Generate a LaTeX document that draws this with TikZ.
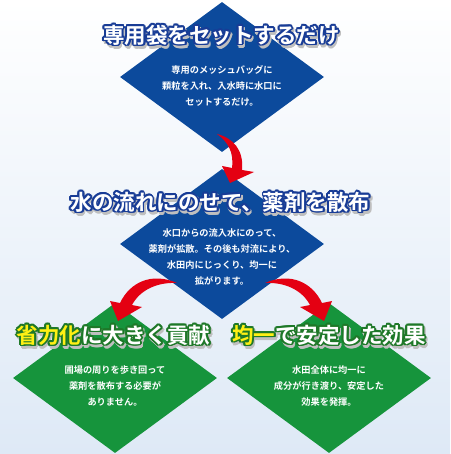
\documentclass[tikz,border=0pt]{standalone}
\usepackage{fontspec}
\newfontfamily\jp{Noto Sans CJK JP}[BoldFont={Noto Sans CJK JP Bold}]
\usetikzlibrary{shapes.geometric,positioning}
\definecolor{diamblue}{RGB}{12,74,156}
\definecolor{diamgreen}{RGB}{22,148,60}
\definecolor{arrowred}{RGB}{228,0,18}
\definecolor{titleyellow}{RGB}{255,240,20}
\definecolor{haloblue}{RGB}{24,60,150}
\definecolor{halogreen}{RGB}{30,120,40}
\definecolor{skypale}{RGB}{246,249,253}
\definecolor{skylow}{RGB}{222,233,246}
\colorlet{hilite}{titleyellow}
\newcommand\hl[1]{\textcolor{hilite}{#1}}
% title with a halo: name, position, halo colour, text
\newcommand\halotitle[4]{%
  \foreach \ang in {0,30,...,330}
    \node[titletext, text=black!25, execute at begin node={\colorlet{hilite}{black!25}}]
      at ([shift={(\ang:1.8pt)}, xshift=1.5pt, yshift=-2.5pt]#2) {#4};
  \foreach \ang in {0,30,...,330}
    \node[titletext, text=#3, execute at begin node={\colorlet{hilite}{#3}}]
      at ([shift={(\ang:1.8pt)}]#2) {#4};
  \node[titletext] (#1) at (#2) {#4};
}
\begin{document}
\begin{tikzpicture}[
  x=1pt, y=-1pt,
  font=\jp,
  diam/.style={diamond, minimum width=204pt, minimum height=150pt, inner sep=0pt},
  bluediam/.style={diam, fill=diamblue},
  greendiam/.style={diam, fill=diamgreen},
  body/.style={text=white, align=center, font=\jp\bfseries\fontsize{9.2}{16}\selectfont},
  titletext/.style={text=white, inner sep=0pt, font=\jp\bfseries\fontsize{21.5}{24}\selectfont},
  redarrow/.style={fill=arrowred}
]
\useasboundingbox (0,0) rectangle (450,454);
\shade[top color=white, middle color=skypale, bottom color=skylow] (0,0) rectangle (450,454);

% diamonds
\node[bluediam]  (d1) at (222,77)  {};
\node[bluediam]  (d2) at (222,244) {};
\node[greendiam] (d3) at (115,378) {};
\node[greendiam] (d4) at (329,378) {};

% curved red arrows
\fill[redarrow] (217,134) .. controls (233,138) and (244,150) .. (242,170)
  -- (254,172) -- (230,183) -- (222,166) -- (232,168)
  .. controls (234,152) and (228,142) .. (217,134) -- cycle;
\fill[redarrow] (265,283) .. controls (290,272) and (312,282) .. (322,303)
  -- (332,301) -- (324,321) -- (300,307) -- (310,305)
  .. controls (302,290) and (285,282) .. (265,283) -- cycle;
\fill[redarrow] (177,283) .. controls (152,272) and (130,282) .. (120,303)
  -- (110,301) -- (118,321) -- (142,307) -- (132,305)
  .. controls (140,290) and (157,282) .. (177,283) -- cycle;

% titles
\coordinate (p1) at (221.5,35);
\coordinate (p2) at (220.5,202);
\coordinate (p3) at (113.5,335);
\coordinate (p4) at (329,335);
\halotitle{t1}{p1}{haloblue}{専用袋をセットするだけ}
\halotitle{t2}{p2}{haloblue}{水の流れにのせて、薬剤を散布}
\halotitle{t3}{p3}{halogreen}{\hl{省力化}に大きく貢献}
\halotitle{t4}{p4}{halogreen}{\hl{均一}で安定した効果}

% texts in the diamonds
\node[body] (b1) at ([yshift=-9pt]d1.center)
  {専用のメッシュバッグに\\顆粒を入れ、入水時に水口に\\セットするだけ。};
\node[body] (b2) at ([yshift=-12.5pt]d2.center)
  {水口からの流入水にのって、\\薬剤が拡散。その後も対流により、\\水田内にじっくり、均一に\\拡がります。};
\node[body] (b3) at ([yshift=-8pt]d3.center)
  {圃場の周りを歩き回って\\薬剤を散布する必要が\\ありません。};
\node[body] (b4) at ([yshift=-8pt]d4.center)
  {水田全体に均一に\\成分が行き渡り、安定した\\効果を発揮。};
\end{tikzpicture}
\end{document}
